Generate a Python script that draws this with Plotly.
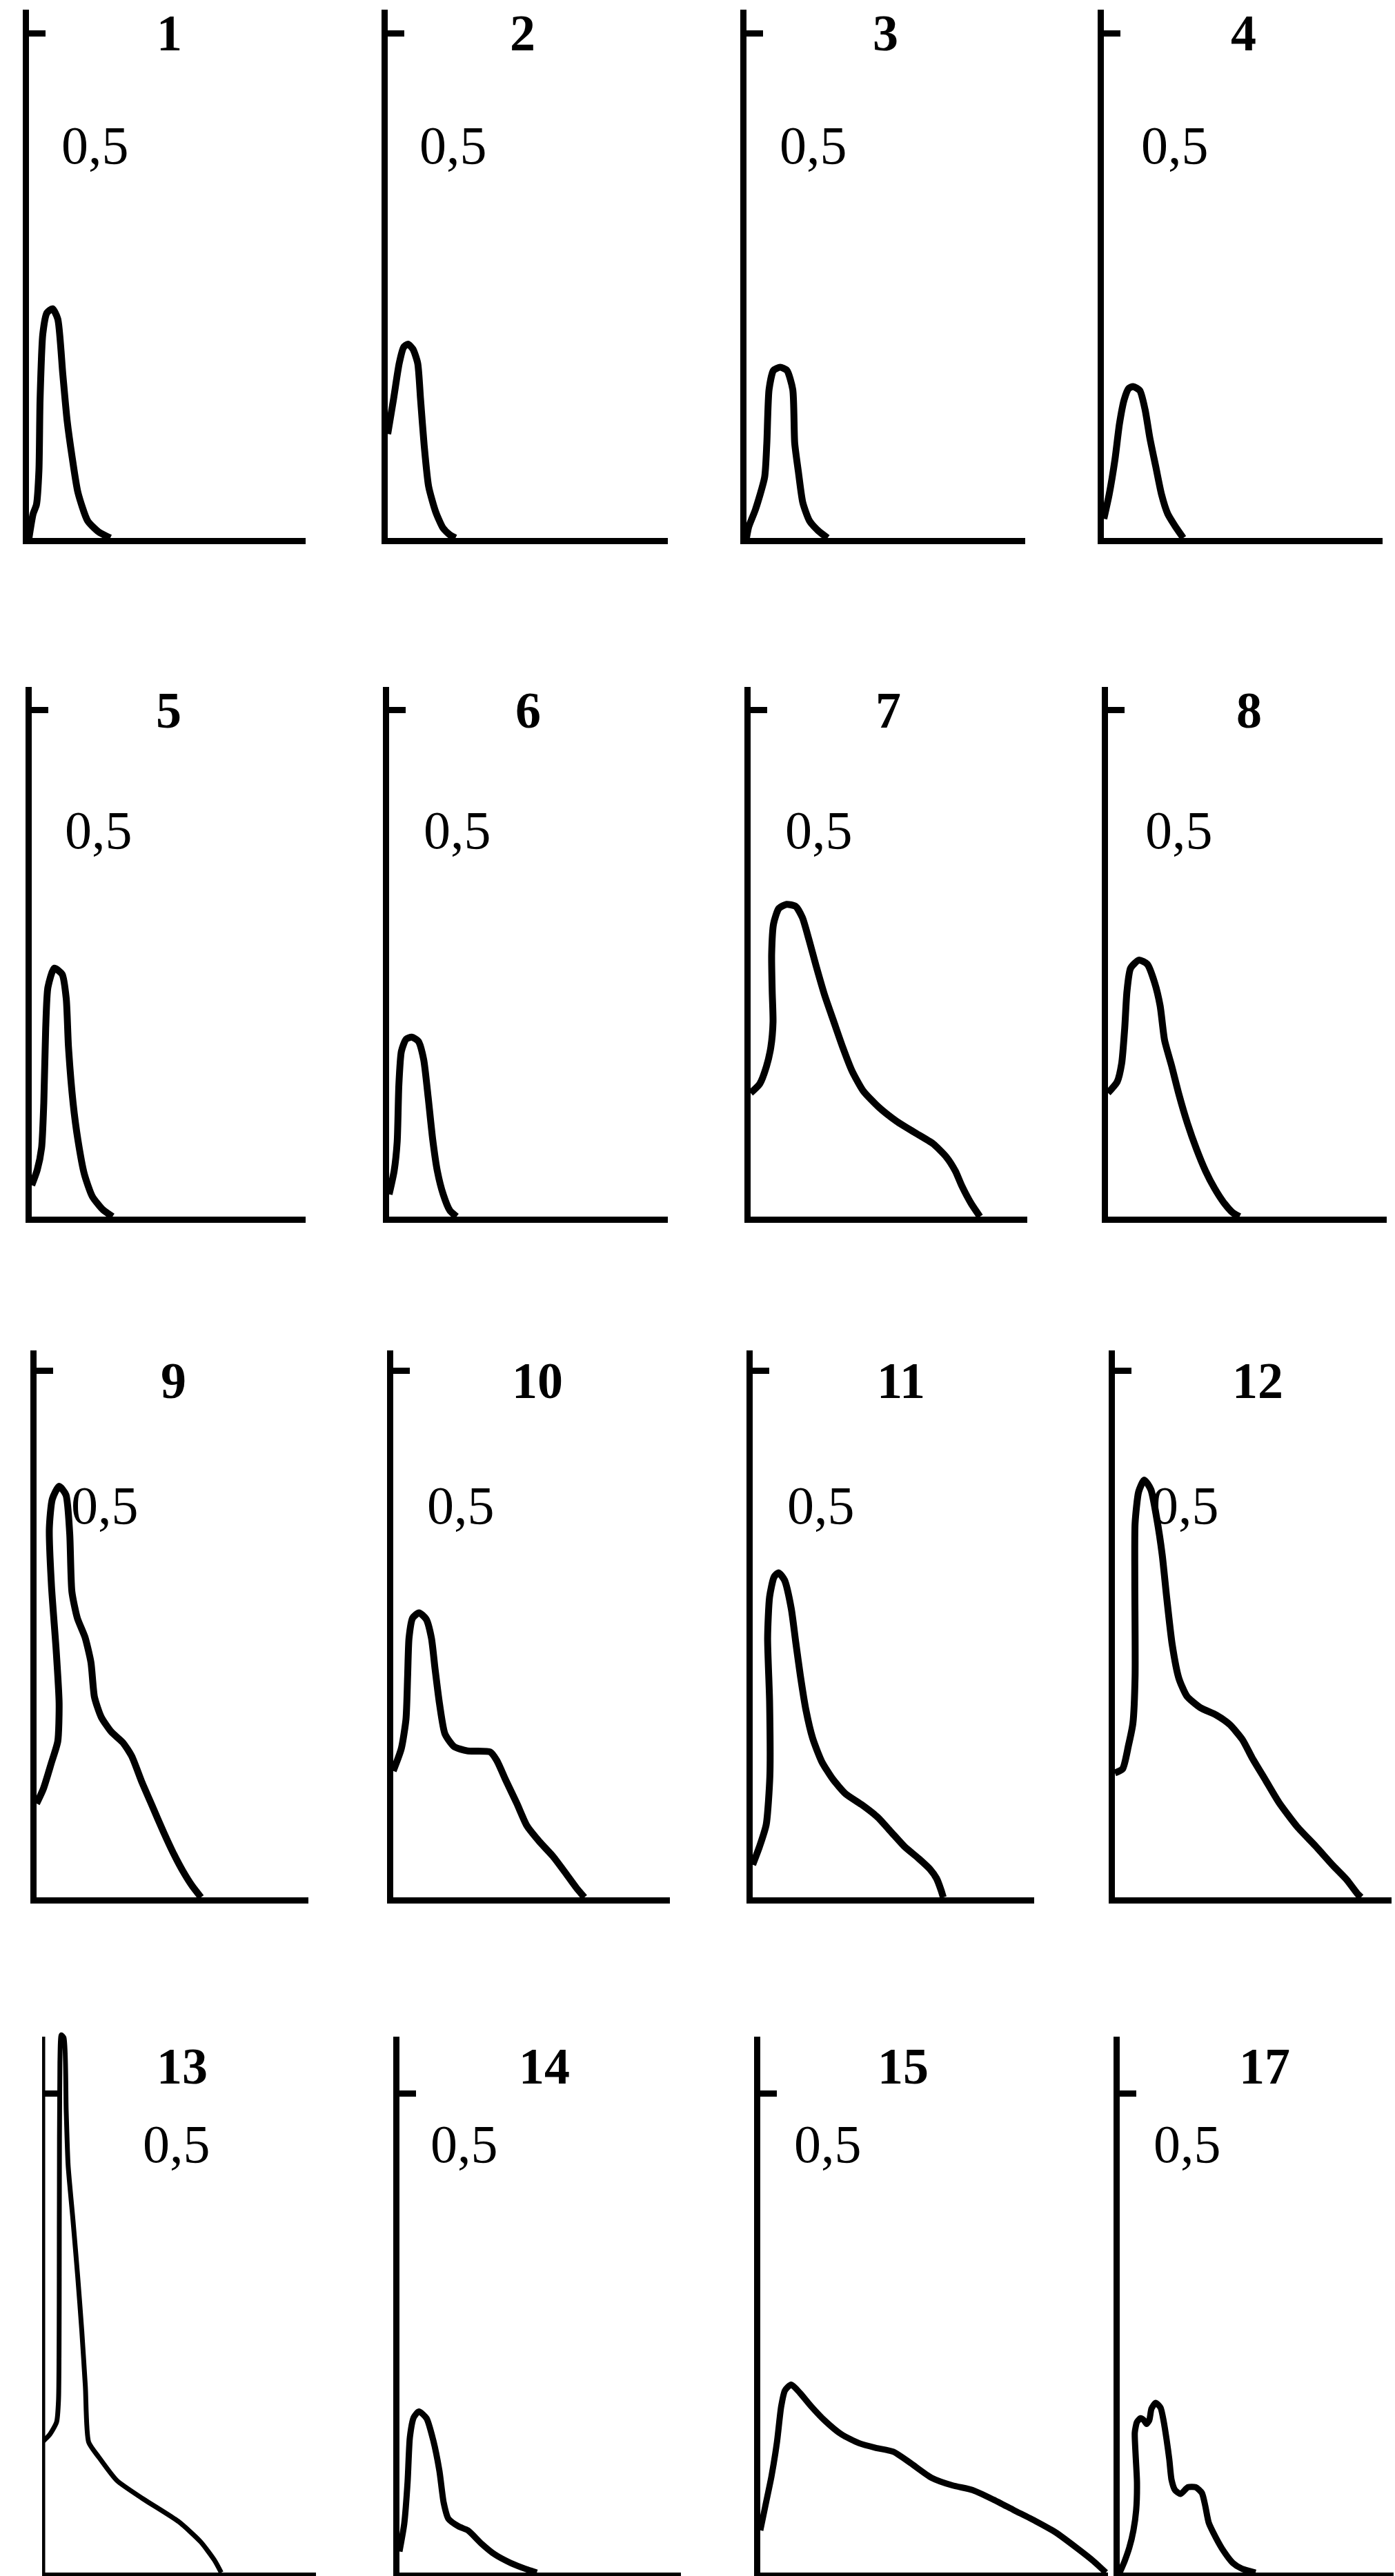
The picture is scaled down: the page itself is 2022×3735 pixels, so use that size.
import plotly.graph_objects as go

W, H = 2022, 3735

# ---------------- data (x: fraction of the x-axis length, y: ordinate, tick = 0.5) -------------
panel_labels = ["1", "2", "3", "4", "5", "6", "7", "8",
                "9", "10", "11", "12", "13", "14", "15", "17"]
tick_value = 0.5
tick_label = "0,5"

x01 = [0, 0.015, 0.027, 0.036, 0.040, 0.050, 0.065, 0.085, 0.104, 0.122, 0.138, 0.156, 0.177, 0.212, 0.252, 0.294]
y01 = [0, 0.024, 0.033, 0.067, 0.136, 0.202, 0.223, 0.227, 0.217, 0.163, 0.116, 0.080, 0.045, 0.017, 0.006, 0]

x02 = [0, 0.021, 0.041, 0.057, 0.072, 0.090, 0.107, 0.117, 0.130, 0.146, 0.171, 0.197, 0.222, 0.242]
y02 = [0.103, 0.138, 0.173, 0.189, 0.192, 0.187, 0.173, 0.138, 0.092, 0.051, 0.026, 0.010, 0.003, 0]

x03 = [0, 0.008, 0.032, 0.065, 0.073, 0.081, 0.097, 0.121, 0.145, 0.166, 0.173, 0.186, 0.202, 0.226, 0.258, 0.291]
y03 = [0, 0.011, 0.028, 0.060, 0.094, 0.147, 0.166, 0.169, 0.166, 0.147, 0.094, 0.066, 0.035, 0.017, 0.007, 0]

x04 = [0, 0.019, 0.040, 0.056, 0.073, 0.089, 0.105, 0.129, 0.148, 0.165, 0.186, 0.207, 0.229, 0.255, 0.285]
y04 = [0.019, 0.043, 0.078, 0.113, 0.137, 0.148, 0.150, 0.146, 0.127, 0.099, 0.071, 0.043, 0.024, 0.012, 0]

x05 = [0, 0.020, 0.036, 0.044, 0.051, 0.059, 0.082, 0.111, 0.126, 0.134, 0.151, 0.169, 0.192, 0.221, 0.259, 0.295]
y05 = [0.031, 0.046, 0.068, 0.112, 0.186, 0.226, 0.245, 0.239, 0.215, 0.168, 0.112, 0.075, 0.042, 0.020, 0.007, 0]

x06 = [0, 0.018, 0.029, 0.035, 0.044, 0.061, 0.081, 0.105, 0.124, 0.140, 0.156, 0.173, 0.194, 0.218, 0.242]
y06 = [0.022, 0.045, 0.074, 0.130, 0.163, 0.175, 0.177, 0.173, 0.155, 0.118, 0.077, 0.045, 0.022, 0.006, 0]

x07 = [0, 0.033, 0.057, 0.073, 0.081, 0.078, 0.076, 0.083, 0.102, 0.130, 0.163, 0.187, 0.211, 0.236,
       0.268, 0.301, 0.333, 0.366, 0.407, 0.463, 0.528, 0.593, 0.659, 0.707, 0.740, 0.764, 0.797, 0.829]
y07 = [0.122, 0.131, 0.148, 0.167, 0.192, 0.222, 0.259, 0.289, 0.304, 0.308, 0.306, 0.295, 0.273, 0.248,
       0.218, 0.192, 0.167, 0.144, 0.124, 0.108, 0.094, 0.083, 0.072, 0.059, 0.045, 0.030, 0.013, 0]

x08 = [0, 0.033, 0.049, 0.060, 0.068, 0.081, 0.111, 0.141, 0.167, 0.187, 0.203, 0.228, 0.255, 0.285,
       0.317, 0.350, 0.382, 0.415, 0.447, 0.472]
y08 = [0.122, 0.133, 0.151, 0.186, 0.222, 0.245, 0.253, 0.249, 0.231, 0.208, 0.174, 0.149, 0.120, 0.092,
       0.067, 0.045, 0.028, 0.014, 0.004, 0]

x09 = [0, 0.025, 0.055, 0.078, 0.083, 0.072, 0.055, 0.047, 0.058, 0.083, 0.108, 0.122, 0.130, 0.150,
       0.178, 0.200, 0.213, 0.238, 0.275, 0.317, 0.350, 0.388, 0.425, 0.467, 0.505, 0.538, 0.572, 0.605]
y09 = [0.089, 0.103, 0.128, 0.148, 0.184, 0.235, 0.295, 0.350, 0.378, 0.390, 0.382, 0.345, 0.290, 0.265,
       0.247, 0.223, 0.190, 0.171, 0.157, 0.147, 0.134, 0.109, 0.087, 0.062, 0.041, 0.025, 0.011, 0]

x10 = [0, 0.029, 0.046, 0.052, 0.057, 0.070, 0.093, 0.119, 0.138, 0.151, 0.167, 0.187, 0.220, 0.268,
       0.350, 0.374, 0.407, 0.447, 0.483, 0.528, 0.577, 0.623, 0.662, 0.691]
y10 = [0.120, 0.141, 0.169, 0.210, 0.246, 0.265, 0.270, 0.264, 0.246, 0.217, 0.184, 0.155, 0.143, 0.139,
       0.138, 0.130, 0.111, 0.089, 0.068, 0.053, 0.039, 0.023, 0.009, 0]

x11 = [0, 0.024, 0.048, 0.061, 0.060, 0.053, 0.060, 0.076, 0.092, 0.113, 0.137, 0.153, 0.169, 0.189,
       0.213, 0.245, 0.285, 0.331, 0.387, 0.444, 0.492, 0.540, 0.589, 0.629, 0.653, 0.669, 0.677]
y11 = [0.031, 0.048, 0.069, 0.115, 0.186, 0.246, 0.285, 0.304, 0.308, 0.301, 0.274, 0.242, 0.211, 0.178,
       0.151, 0.129, 0.112, 0.098, 0.088, 0.076, 0.062, 0.048, 0.037, 0.027, 0.018, 0.007, 0]

x12 = [0, 0.028, 0.049, 0.065, 0.073, 0.072, 0.073, 0.086, 0.106, 0.130, 0.151, 0.171, 0.187, 0.207,
       0.231, 0.260, 0.309, 0.366, 0.415, 0.460, 0.499, 0.545, 0.593, 0.659, 0.724, 0.789, 0.837, 0.878, 0.890]
y12 = [0.118, 0.122, 0.144, 0.165, 0.210, 0.300, 0.355, 0.385, 0.396, 0.387, 0.360, 0.325, 0.285, 0.240,
       0.208, 0.191, 0.180, 0.173, 0.164, 0.150, 0.131, 0.111, 0.090, 0.067, 0.049, 0.030, 0.017, 0.003, 0]

x13 = [0, 0.028, 0.053, 0.060, 0.063, 0.065, 0.070, 0.080, 0.088, 0.095, 0.113, 0.130, 0.145, 0.158,
       0.170, 0.208, 0.273, 0.368, 0.499, 0.579, 0.629, 0.654]
y13 = [0.136, 0.144, 0.157, 0.180, 0.381, 0.532, 0.561, 0.558, 0.482, 0.425, 0.367, 0.309, 0.252, 0.194,
       0.136, 0.120, 0.096, 0.077, 0.053, 0.032, 0.013, 0]

x14 = [0, 0.017, 0.029, 0.037, 0.051, 0.069, 0.096, 0.120, 0.142, 0.157, 0.174, 0.211, 0.243, 0.292,
       0.338, 0.395, 0.456, 0.488]
y14 = [0.022, 0.051, 0.095, 0.141, 0.162, 0.168, 0.161, 0.138, 0.106, 0.073, 0.056, 0.048, 0.044, 0.030,
       0.019, 0.010, 0.003, 0]

x15 = [0, 0.016, 0.032, 0.048, 0.060, 0.071, 0.089, 0.115, 0.145, 0.187, 0.234, 0.284, 0.333, 0.383,
       0.433, 0.492, 0.552, 0.611, 0.671, 0.730, 0.790, 0.849, 0.909, 0.958, 0.994]
y15 = [0.044, 0.072, 0.100, 0.136, 0.173, 0.190, 0.196, 0.187, 0.174, 0.158, 0.144, 0.135, 0.130, 0.126,
       0.114, 0.099, 0.091, 0.086, 0.076, 0.065, 0.054, 0.042, 0.026, 0.012, 0]

x17 = [0, 0.018, 0.035, 0.050, 0.060, 0.063, 0.058, 0.055, 0.063, 0.076, 0.088, 0.098, 0.108, 0.116,
       0.131, 0.149, 0.161, 0.171, 0.181, 0.189, 0.202, 0.222, 0.249, 0.277, 0.300, 0.312, 0.325, 0.350,
       0.378, 0.413, 0.446, 0.496]
y17 = [0, 0.012, 0.026, 0.044, 0.065, 0.094, 0.123, 0.146, 0.157, 0.161, 0.159, 0.155, 0.159, 0.171,
       0.177, 0.172, 0.157, 0.139, 0.118, 0.097, 0.086, 0.082, 0.089, 0.089, 0.083, 0.070, 0.052, 0.037,
       0.023, 0.010, 0.004, 0]

curves_x = [x01, x02, x03, x04, x05, x06, x07, x08, x09, x10, x11, x12, x13, x14, x15, x17]
curves_y = [y01, y02, y03, y04, y05, y06, y07, y08, y09, y10, y11, y12, y13, y14, y15, y17]

# ---------------- layout geometry (pixels in the 2022 x 3735 page) ----------------
row_base = [780, 1764, 2751, 3730]    # pixel row of y = 0
row_tick = [48, 1029, 1987, 3035]     # pixel row of y = 0.5
row_top = [14, 996, 1958, 2953]       # top end of the y axis line
axis_x = [42, 562, 1082, 1600, 46, 564, 1088, 1606, 53, 570, 1091, 1616, 61, 579, 1102, 1623]
axis_end = [443, 968, 1486, 2004, 443, 968, 1489, 2010, 447, 971, 1499, 2017, 458, 987, 1606, 2020]
num_cx = [245, 757, 1283, 1802, 244, 765, 1287, 1810, 251, 779, 1306, 1823, 264, 789, 1309, 1833]
num_cy = [48, 1030, 2002, 2996]
lab_cx = [138, 657, 1179, 1703, 143, 663, 1187, 1709, 152, 668, 1190, 1718, 256, 673, 1200, 1721]
lab_cy = [210, 1203, 2182, 3108]
curve_w = [10, 10, 10, 10, 10, 10, 10, 10, 10, 10, 10, 10, 7, 9, 9, 9]

AXW = 9
SERIF = "Liberation Serif, Times New Roman, serif"

fig = go.Figure()
layout = dict(width=W, height=H, margin=dict(l=0, r=0, t=0, b=0),
              paper_bgcolor="white", plot_bgcolor="white", showlegend=False)
annotations = []
shapes = []

for i in range(16):
    r = i // 4
    k = "" if i == 0 else str(i + 1)
    base, tick, top = row_base[r], row_tick[r], row_top[r]
    ppu = (base - tick) / tick_value          # pixels per unit of y
    y_axis_top = (base - top) / ppu
    ymax_data = max(curves_y[i])
    y_range_top = max(y_axis_top, ymax_data + 0.012)
    dom_top_px = base - y_range_top * ppu
    xd = [axis_x[i] / W, axis_end[i] / W]
    yd = [1 - base / H, 1 - dom_top_px / H]
    extended = y_range_top > y_axis_top + 1e-9

    layout["xaxis" + k] = dict(domain=xd, range=[0, 1], anchor="y" + k,
                               showline=True, linecolor="black", linewidth=AXW,
                               showgrid=False, zeroline=False, showticklabels=False,
                               ticks="", fixedrange=True)
    layout["yaxis" + k] = dict(domain=yd, range=[0, y_range_top], anchor="x" + k,
                               showline=not extended, linecolor="black", linewidth=AXW,
                               showgrid=False, zeroline=False, showticklabels=False,
                               ticks="inside", tickvals=[tick_value], ticklen=24,
                               tickwidth=AXW, tickcolor="black", fixedrange=True)
    if extended:
        shapes.append(dict(type="line", xref="x" + k, yref="y" + k,
                           x0=0, x1=0, y0=0, y1=y_axis_top,
                           line=dict(color="black", width=AXW)))

    fig.add_trace(go.Scatter(x=curves_x[i], y=curves_y[i], mode="lines",
                             xaxis="x" + k, yaxis="y" + k,
                             line=dict(color="black", width=curve_w[i], shape="spline", smoothing=0.6),
                             hoverinfo="skip"))

    annotations.append(dict(text="<b>" + panel_labels[i] + "</b>", xref="paper", yref="paper",
                            x=num_cx[i] / W, y=1 - num_cy[r] / H, xanchor="center", yanchor="middle",
                            showarrow=False, font=dict(family=SERIF, size=74, color="black")))
    annotations.append(dict(text=tick_label, xref="paper", yref="paper",
                            x=lab_cx[i] / W, y=1 - lab_cy[r] / H, xanchor="center", yanchor="middle",
                            showarrow=False, font=dict(family=SERIF, size=78, color="black")))

layout["annotations"] = annotations
layout["shapes"] = shapes
fig.update_layout(**layout)

fig.write_html("out.html", config={"displayModeBar": False},
               post_script="document.body.style.margin='0';document.body.style.overflow='hidden';")
